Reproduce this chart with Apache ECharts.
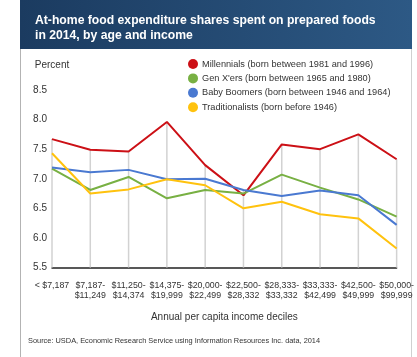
<!DOCTYPE html>
<html>
<head>
<meta charset="utf-8">
<script src="https://cdn.jsdelivr.net/npm/echarts@6/dist/echarts.min.js"></script>
<style>
  html, body { margin: 0; padding: 0; background: #fff; }
  #chart { width: 417px; height: 357px; }
</style>
</head>
<body>
<div id="chart"></div>
<script>
// Income deciles (annual per capita income)
const incomeDeciles = [
  '< $7,187', '$7,187-\n$11,249', '$11,250-\n$14,374', '$14,375-\n$19,999',
  '$20,000-\n$22,499', '$22,500-\n$28,332', '$28,333-\n$33,332',
  '$33,333-\n$42,499', '$42,500-\n$49,999', '$50,000-\n$99,999'
];

// Share of at-home food expenditure spent on prepared foods (percent)
const millennials     = [7.67, 7.49, 7.46, 7.96, 7.23, 6.72, 7.58, 7.50, 7.75, 7.33];
const genXers         = [7.17, 6.81, 7.03, 6.67, 6.81, 6.75, 7.07, 6.85, 6.65, 6.36];
const babyBoomers     = [7.19, 7.11, 7.15, 6.99, 7.00, 6.81, 6.71, 6.80, 6.72, 6.22];
const traditionalists = [7.43, 6.75, 6.82, 6.99, 6.89, 6.50, 6.61, 6.40, 6.33, 5.82];

const seriesNames = [
  'Millennials (born between 1981 and 1996)',
  "Gen X'ers (born between 1965 and 1980)",
  'Baby Boomers (born between 1946 and 1964)',
  'Traditionalists (born before 1946)'
];

const yTicks = [5.5, 6.0, 6.5, 7.0, 7.5, 8.0, 8.5];

// Drop lines run from the highest group value at each decile down to the axis
const dropTops = incomeDeciles.map((_, i) =>
  Math.max(millennials[i], genXers[i], babyBoomers[i], traditionalists[i]));

const colors = ['#cc1016', '#78b043', '#4a79d1', '#ffc20e'];
const FONT = '"Liberation Sans", Arial, sans-serif';

const chart = echarts.init(document.getElementById('chart'), null, { renderer: 'canvas' });

function lineSeries(name, data, color) {
  return {
    name, type: 'line', data,
    symbol: 'none',
    lineStyle: { color, width: 2 },
    itemStyle: { color },
    z: 3
  };
}

chart.setOption({
  animation: false,
  backgroundColor: '#ffffff',
  graphic: [
    {
      type: 'rect', left: 20, top: 0, z: 0, silent: true,
      shape: { width: 392, height: 49 },
      style: {
        fill: new echarts.graphic.LinearGradient(0, 0, 1, 0, [
          { offset: 0, color: '#1b3b60' },
          { offset: 1, color: '#2d5985' }
        ])
      }
    },
    {
      type: 'polyline', silent: true, z: 0,
      shape: { points: [[20.5, 49], [20.5, 357]] },
      style: { stroke: '#b3b3b3', lineWidth: 1 }
    },
    {
      type: 'polyline', silent: true, z: 0,
      shape: { points: [[411.5, 49], [411.5, 357]] },
      style: { stroke: '#d0d0d0', lineWidth: 1 }
    }
  ],
  title: [
    {
      text: 'At-home food expenditure shares spent on prepared foods\nin 2014, by age and income',
      left: 35, top: 13, padding: 0,
      textStyle: {
        color: '#ffffff', fontFamily: FONT, fontSize: 12.2,
        fontWeight: 'bold', lineHeight: 15
      }
    },
    {
      text: 'Source: USDA, Economic Research Service using Information Resources Inc. data, 2014',
      left: 28, top: 337, padding: 0,
      textStyle: { color: '#333', fontFamily: FONT, fontSize: 7.4, fontWeight: 'normal' }
    }
  ],
  legend: {
    data: seriesNames,
    orient: 'vertical',
    left: 188, top: 59, padding: [0, 0, 0, 0],
    itemGap: 4.4,
    itemWidth: 10, itemHeight: 10,
    icon: 'circle',
    textStyle: { color: '#333', fontFamily: FONT, fontSize: 9.2, padding: [0, 0, 0, -1] }
  },
  grid: { left: 52, right: 18, top: 90, bottom: 89.5 },
  xAxis: {
    type: 'category',
    data: incomeDeciles,
    boundaryGap: false,
    name: 'Annual per capita income deciles',
    nameLocation: 'middle',
    nameGap: 45,
    nameTextStyle: { color: '#333', fontFamily: FONT, fontSize: 10 },
    axisLine: { lineStyle: { color: '#222', width: 1.5 } },
    axisTick: { show: false },
    splitLine: { show: false },
    axisLabel: {
      color: '#333', fontFamily: FONT, fontSize: 8.8,
      lineHeight: 10, margin: 13, verticalAlign: 'top', interval: 0
    }
  },
  yAxis: {
    type: 'value',
    min: yTicks[0], max: yTicks[yTicks.length - 1], interval: 0.5,
    name: 'Percent',
    nameLocation: 'end',
    nameGap: 20,
    nameTextStyle: { color: '#333', fontFamily: FONT, fontSize: 10 },
    axisLine: { show: false },
    axisTick: { show: false },
    splitLine: { show: false },
    axisLabel: {
      color: '#333', fontFamily: FONT, fontSize: 10, margin: 5,
      formatter: v => v.toFixed(1)
    }
  },
  series: [
    {
      name: 'drop', type: 'bar', data: dropTops,
      barWidth: 1.5, silent: true, z: 1,
      itemStyle: { color: '#d2d2d2' }
    },
    lineSeries(seriesNames[0], millennials, colors[0]),
    lineSeries(seriesNames[1], genXers, colors[1]),
    lineSeries(seriesNames[2], babyBoomers, colors[2]),
    lineSeries(seriesNames[3], traditionalists, colors[3])
  ]
});
</script>
</body>
</html>
